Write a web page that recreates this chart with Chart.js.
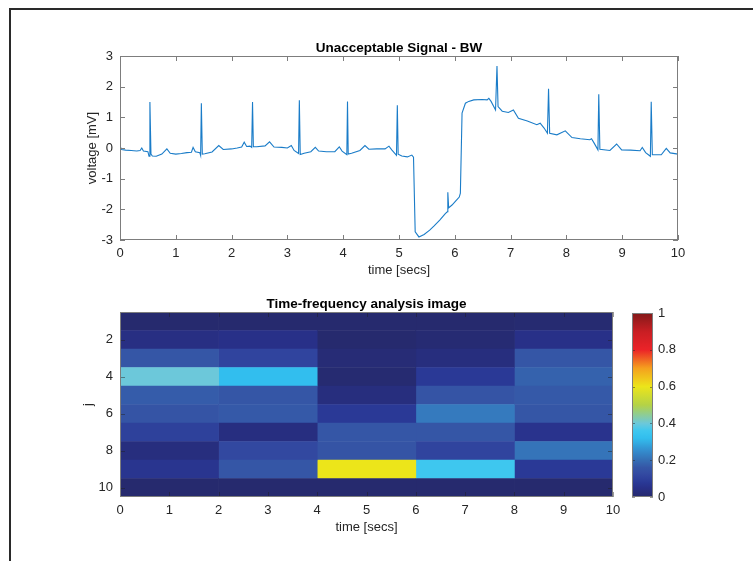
<!DOCTYPE html>
<html>
<head>
<meta charset="utf-8">
<script src="https://cdn.jsdelivr.net/npm/chart.js@4.4.0/dist/chart.umd.min.js"></script>
<style>
  html, body { margin: 0; padding: 0; background: #fff; }
  #page { position: relative; width: 753px; height: 561px; overflow: hidden; background: #fff; }
  #frame { position: absolute; left: 9px; top: 8px; width: 742px; height: 600px;
           border-top: 2px solid #2a2a2a; border-left: 2px solid #2a2a2a; }
  canvas { position: absolute; }
</style>
</head>
<body>
<div id="page">
  <div id="frame"></div>
  <canvas id="ecg" width="753" height="290" style="left:0;top:0;width:753px;height:290px"></canvas>
  <canvas id="heat" width="753" height="271" style="left:0;top:290px;width:753px;height:271px"></canvas>
  <canvas id="cbar" width="153" height="271" style="left:600px;top:290px;width:153px;height:271px"></canvas>
</div>
<script>
// ---------- DATA ----------
const ecgTitle = 'Unacceptable Signal - BW';
const heatTitle = 'Time-frequency analysis image';
const xLabel = 'time [secs]';
const ecgYLabel = 'voltage [mV]';
const heatYLabel = 'j';

const ecgTime = [0,0.03,0.1,0.2,0.3,0.36,0.39,0.42,0.5,0.52,0.536,0.555,0.58,0.65,0.75,0.84,0.9,1.0,1.1,1.2,1.28,1.31,1.35,1.43,1.445,1.458,1.475,1.52,1.65,1.77,1.85,2.0,2.1,2.18,2.226,2.27,2.33,2.36,2.375,2.39,2.45,2.6,2.68,2.76,2.9,3.0,3.07,3.12,3.2,3.214,3.23,3.3,3.42,3.5,3.56,3.7,3.85,3.93,3.98,4.065,4.077,4.09,4.15,4.3,4.39,4.46,4.6,4.75,4.82,4.87,4.955,4.97,4.985,5.05,5.15,5.23,5.26,5.29,5.357,5.45,5.55,5.625,5.73,5.83,5.865,5.875,5.89,5.95,6.01,6.08,6.1,6.13,6.19,6.25,6.34,6.49,6.58,6.61,6.65,6.73,6.756,6.775,6.85,6.96,7.05,7.14,7.3,7.47,7.53,7.6,7.66,7.68,7.70,7.83,7.98,8.1,8.25,8.42,8.45,8.5,8.565,8.58,8.6,8.78,8.9,8.99,9.15,9.32,9.36,9.42,9.505,9.52,9.54,9.7,9.79,9.86,10];
const ecgVolt = [0.06,-0.05,-0.07,-0.08,-0.1,-0.08,0.0,-0.1,-0.12,-0.27,1.50,-0.2,-0.26,-0.27,-0.2,-0.03,-0.17,-0.2,-0.18,-0.15,-0.14,0.02,-0.12,-0.15,-0.24,1.46,-0.2,-0.19,-0.13,0.08,-0.05,-0.03,0.0,0.03,0.19,0.05,0.06,0.02,1.50,0.04,0.04,0.07,0.2,0.03,0.02,0.0,0.08,-0.08,-0.18,1.56,-0.21,-0.17,-0.12,0.02,-0.1,-0.12,-0.12,0.04,-0.1,-0.22,1.52,-0.2,-0.17,-0.08,0.08,-0.04,-0.03,-0.03,0.06,-0.06,-0.24,1.39,-0.2,-0.26,-0.29,-0.23,-0.3,-2.73,-2.9,-2.82,-2.68,-2.55,-2.35,-2.14,-2.08,-1.44,-1.95,-1.86,-1.74,-1.6,-1.47,1.14,1.46,1.52,1.57,1.58,1.57,1.62,1.52,1.24,2.67,1.35,1.2,1.16,1.24,0.97,0.88,0.76,0.81,0.65,0.48,1.93,0.48,0.43,0.56,0.34,0.3,0.27,0.3,0.15,-0.06,1.75,-0.04,-0.08,0.13,-0.06,-0.07,-0.09,0.02,-0.15,-0.27,1.51,-0.22,-0.22,-0.01,-0.16,-0.2];

const jLabels = ['1','2','3','4','5','6','7','8','9','10'];
const timeEdges = [0, 2, 4, 6, 8, 10];
// energy[row j][time window]
const energy = [
  [0.00, 0.00, 0.00, 0.00, 0.005],
  [0.04, 0.05, 0.00, 0.01, 0.05],
  [0.16, 0.11, 0.015, 0.03, 0.16],
  [0.40, 0.32, 0.005, 0.08, 0.18],
  [0.17, 0.16, 0.03, 0.155, 0.165],
  [0.155, 0.165, 0.08, 0.22, 0.16],
  [0.10, 0.035, 0.16, 0.16, 0.06],
  [0.03, 0.12, 0.155, 0.11, 0.21],
  [0.065, 0.16, 0.60, 0.36, 0.08],
  [0.00, 0.00, 0.00, 0.00, 0.00]
];
const colorbarRange = [0, 1];

// colormap (jet-like as in the reference colorbar)
const cmapStops = [0,0.05,0.08,0.12,0.16,0.20,0.25,0.32,0.36,0.40,0.50,0.60,0.70,0.80,0.90,1.00];
const cmapColors = [[38,42,110],[40,48,136],[42,57,150],[50,72,160],[53,86,166],[53,110,180],[52,140,205],[50,190,238],[62,199,239],[108,200,218],[180,210,70],[236,229,26],[245,160,30],[235,35,40],[200,30,35],[130,25,25]];

// ---------- HELPERS ----------
function cmap(v) {
  v = Math.max(0, Math.min(1, v));
  for (let i = 1; i < cmapStops.length; i++) {
    if (v <= cmapStops[i]) {
      const t = (v - cmapStops[i-1]) / (cmapStops[i] - cmapStops[i-1]);
      const a = cmapColors[i-1], b = cmapColors[i];
      return 'rgb(' + a.map((c, k) => Math.round(c + (b[k] - c) * t)).join(',') + ')';
    }
  }
  return 'rgb(' + cmapColors[cmapColors.length-1].join(',') + ')';
}

const FONT = "'Liberation Sans', Arial, Helvetica, sans-serif";
const TXT = '#262626';
const AXC = '#7d7d7d';
Chart.defaults.font.family = FONT;
Chart.defaults.font.size = 13;
Chart.defaults.color = TXT;
Chart.defaults.animation = false;

function boxPlugin(opts) {
  return {
    id: 'box_' + opts.id,
    afterDatasetsDraw(chart) {
      const ctx = chart.ctx;
      const a = chart.chartArea;
      ctx.save();
      ctx.strokeStyle = opts.tickColor || AXC;
      ctx.lineWidth = 1;
      const tl = opts.tickLen || 5;
      ctx.beginPath();
      if (opts.xTicks) {
        const xs = chart.scales.x;
        xs.ticks.forEach((t, i) => {
          const px = Math.round(xs.getPixelForTick(i)) + 0.5;
          ctx.moveTo(px, a.bottom); ctx.lineTo(px, a.bottom - tl);
          ctx.moveTo(px, a.top); ctx.lineTo(px, a.top + tl);
        });
      }
      if (opts.yTicks) {
        const ys = chart.scales.y;
        ys.ticks.forEach((t, i) => {
          if (opts.yFilter && !opts.yFilter(i)) return;
          const py = Math.round(ys.getPixelForTick(i)) + 0.5;
          ctx.moveTo(a.left, py); ctx.lineTo(a.left + tl, py);
          ctx.moveTo(a.right, py); ctx.lineTo(a.right - tl, py);
        });
      }
      ctx.stroke();
      ctx.strokeStyle = AXC;
      ctx.strokeRect(Math.round(a.left) + 0.5, Math.round(a.top) + 0.5,
                     Math.round(a.right - a.left) - 1, Math.round(a.bottom - a.top) - 1);
      // texts
      ctx.fillStyle = '#000';
      if (opts.title) {
        ctx.font = 'bold 13.5px ' + FONT;
        ctx.textAlign = 'center';
        ctx.textBaseline = 'alphabetic';
        ctx.fillText(opts.title, (a.left + a.right) / 2, a.top - 4.5);
      }
      ctx.fillStyle = TXT;
      ctx.font = '13px ' + FONT;
      if (opts.xLabel) {
        ctx.textAlign = 'center';
        ctx.textBaseline = 'middle';
        ctx.fillText(opts.xLabel, (a.left + a.right) / 2, a.bottom + 30.5);
      }
      if (opts.yLabel) {
        ctx.translate(opts.yLabelX, (a.top + a.bottom) / 2);
        ctx.rotate(-Math.PI / 2);
        ctx.textAlign = 'center';
        ctx.textBaseline = 'middle';
        ctx.fillText(opts.yLabel, 0, 0);
      }
      ctx.restore();
    }
  };
}

// ---------- ECG CHART ----------
new Chart(document.getElementById('ecg'), {
  type: 'line',
  data: {
    datasets: [{
      data: ecgTime.map((t, i) => ({ x: t, y: ecgVolt[i] })),
      borderColor: '#1a7cc8',
      borderWidth: 1.1,
      pointRadius: 0,
      tension: 0,
      fill: false
    }]
  },
  options: {
    responsive: false,
    layout: { padding: { top: 56, right: 75, left: 0, bottom: 0 } },
    plugins: { legend: { display: false }, tooltip: { enabled: false }, title: { display: false } },
    scales: {
      x: {
        type: 'linear', min: 0, max: 10,
        ticks: { stepSize: 1, padding: 6, color: TXT, maxRotation: 0 },
        grid: { display: false, drawTicks: false },
        border: { display: false },
        afterFit(s) { s.height = 50; }
      },
      y: {
        type: 'linear', min: -3, max: 3,
        ticks: { stepSize: 1, padding: 7, color: TXT },
        grid: { display: false, drawTicks: false },
        border: { display: false },
        afterFit(s) { s.width = 120; }
      }
    }
  },
  plugins: [boxPlugin({ id: 'ecg', xTicks: true, yTicks: true, title: ecgTitle, xLabel: xLabel, yLabel: ecgYLabel, yLabelX: 92 })]
});

// ---------- HEATMAP ----------
const heatDatasets = timeEdges.slice(0, -1).map((t0, c) => ({
  data: jLabels.map(() => [t0, timeEdges[c + 1]]),
  backgroundColor: energy.map(row => cmap(row[c])),
  borderWidth: 0,
  grouped: false,
  barPercentage: 1,
  categoryPercentage: 1
}));

new Chart(document.getElementById('heat'), {
  type: 'bar',
  data: { labels: jLabels, datasets: heatDatasets },
  options: {
    responsive: false,
    indexAxis: 'y',
    layout: { padding: { top: 22, right: 140, left: 0, bottom: 0 } },
    plugins: { legend: { display: false }, tooltip: { enabled: false }, title: { display: false } },
    scales: {
      x: {
        type: 'linear', min: 0, max: 10,
        ticks: { stepSize: 1, padding: 6, color: TXT, maxRotation: 0 },
        grid: { display: false, drawTicks: false },
        border: { display: false },
        afterFit(s) { s.height = 64; }
      },
      y: {
        type: 'category',
        ticks: {
          autoSkip: false, padding: 7, color: TXT,
          callback(v, i) { return (i + 1) % 2 === 0 ? jLabels[i] : ''; }
        },
        grid: { display: false, drawTicks: false },
        border: { display: false },
        afterFit(s) { s.width = 120; }
      }
    }
  },
  plugins: [boxPlugin({ id: 'heat', xTicks: true, yTicks: true, yFilter: i => (i + 1) % 2 === 0,
    tickColor: 'rgba(30,30,30,0.45)', title: heatTitle, xLabel: xLabel, yLabel: heatYLabel, yLabelX: 88 })]
});

// ---------- COLORBAR ----------
new Chart(document.getElementById('cbar'), {
  type: 'bar',
  data: {
    labels: ['cb'],
    datasets: [{
      data: [colorbarRange],
      borderWidth: 0,
      barPercentage: 1,
      categoryPercentage: 1,
      backgroundColor(ctx) {
        const ch = ctx.chart, a = ch.chartArea;
        if (!a) return cmap(0);
        const g = ch.ctx.createLinearGradient(0, a.bottom, 0, a.top);
        for (let k = 0; k <= 100; k++) g.addColorStop(k / 100, cmap(k / 100));
        return g;
      }
    }]
  },
  options: {
    responsive: false,
    layout: { padding: { top: 23, right: 0, left: 32, bottom: 64 } },
    plugins: { legend: { display: false }, tooltip: { enabled: false } },
    scales: {
      x: { display: false },
      y: {
        type: 'linear', position: 'right', min: colorbarRange[0], max: colorbarRange[1],
        ticks: { stepSize: 0.2, padding: 5, color: TXT, callback: v => String(Number(v.toFixed(2))) },
        grid: { display: false, drawTicks: false },
        border: { display: false },
        afterFit(s) { s.width = 100; }
      }
    }
  },
  plugins: [{
    id: 'cbbox',
    afterDatasetsDraw(chart) {
      const ctx = chart.ctx, a = chart.chartArea, ys = chart.scales.y;
      ctx.save();
      ctx.strokeStyle = 'rgba(30,30,30,0.45)';
      ctx.beginPath();
      ys.ticks.forEach((t, i) => {
        const py = Math.round(ys.getPixelForTick(i)) + 0.5;
        ctx.moveTo(a.right, py); ctx.lineTo(a.right - 3, py);
        ctx.moveTo(a.left, py); ctx.lineTo(a.left + 3, py);
      });
      ctx.stroke();
      ctx.strokeStyle = AXC;
      ctx.strokeRect(Math.round(a.left) + 0.5, Math.round(a.top) + 0.5,
                     Math.round(a.right - a.left) - 1, Math.round(a.bottom - a.top) - 1);
      ctx.restore();
    }
  }]
});
</script>
</body>
</html>
